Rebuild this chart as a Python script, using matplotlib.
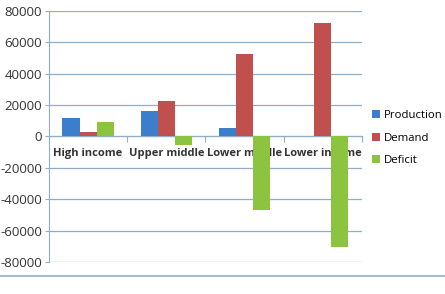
import matplotlib.pyplot as plt
from matplotlib.lines import Line2D
import numpy as np

categories = ['High income', 'Upper middle', 'Lower middle', 'Lower income']
production = [12000, 16400, 5200, 400]
demand = [2900, 22400, 52500, 72100]
deficit = [8900, -5400, -46800, -70600]

series = [('Production', production, '#3B7FCC'),
          ('Demand', demand, '#C0504D'),
          ('Deficit', deficit, '#8CC43F')]

plt.rcParams['font.family'] = ['Open Sans', 'DejaVu Sans']
grid_col = '#8FAFC8'

fig = plt.figure(figsize=(4.45, 2.94), dpi=100)
ax = fig.add_axes([0.110, 0.109, 0.703, 0.854])

x = np.arange(len(categories))
w = 0.218
for i, (name, vals, col) in enumerate(series):
    ax.bar(x + (i - 1) * w, vals, w, color=col, label=name, zorder=3)

ax.set_xlim(-0.5, len(categories) - 0.5)
ax.set_ylim(-80000, 80000)
ax.set_yticks(np.arange(-80000, 80001, 20000))
ax.set_yticklabels([str(v) for v in range(-80000, 80001, 20000)],
                   fontsize=9.5, color='#333333')
ax.yaxis.grid(True, color=grid_col, linewidth=0.9, zorder=0)

# category axis sits on zero, ticks between groups, labels at centres
ax.spines['bottom'].set_position(('data', 0))
ax.spines['bottom'].set_color(grid_col)
ax.spines['left'].set_color(grid_col)
ax.spines['top'].set_visible(False)
ax.spines['right'].set_visible(False)
ax.set_xticks(np.arange(-0.5, len(categories), 1.0))
ax.set_xticklabels([])
ax.set_xticks(x, minor=True)
ax.set_xticklabels(categories, minor=True, fontsize=8, fontweight='bold',
                   color='#333333')
ax.tick_params(axis='x', which='major', length=4, color=grid_col)
ax.tick_params(axis='x', which='minor', length=0, pad=8)
ax.tick_params(axis='y', length=3, color=grid_col, pad=2)
for lab in ax.get_xticklabels(minor=True):
    lab.set_zorder(5)

fig.legend(loc='upper left', bbox_to_anchor=(0.826, 0.64), frameon=False,
           fontsize=8.2, handlelength=0.7, handleheight=0.7,
           handletextpad=0.3, labelspacing=1.0, borderaxespad=0)

fig.add_artist(Line2D([0, 1], [1 - 276 / 294] * 2, color=grid_col,
                      linewidth=1.2, transform=fig.transFigure))

plt.savefig('out.png', dpi=100)
